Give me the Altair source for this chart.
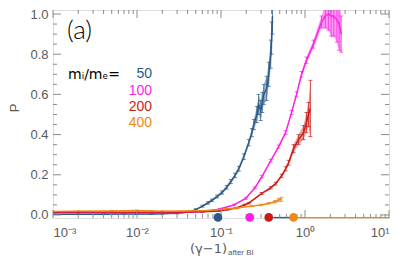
import altair as alt
import pandas as pd

# ---------------- data ----------------
series_names = ["50", "100", "200", "400"]
series_colors = ["#2b5a87", "#ff1ee6", "#cc1a14", "#ec8a14"]
dot_colors = ["#0f3a62", "#ff1ee6", "#c40d0d", "#ec8a14"]

blue_x = [0.001, 0.002, 0.004, 0.007, 0.01, 0.015, 0.02, 0.03, 0.042, 0.05, 0.06, 0.07,
          0.078, 0.09, 0.103, 0.117, 0.131, 0.147, 0.163, 0.187, 0.214, 0.233, 0.246,
          0.267, 0.28, 0.297, 0.31, 0.323, 0.35, 0.37, 0.391, 0.401, 0.41]
blue_p = [0.004, 0.004, 0.004, 0.005, 0.005, 0.005, 0.006, 0.009, 0.015, 0.027, 0.044, 0.06,
          0.073, 0.092, 0.112, 0.138, 0.166, 0.197, 0.23, 0.29, 0.36, 0.41, 0.45,
          0.50, 0.55, 0.52, 0.56, 0.60, 0.63, 0.70, 0.80, 0.88, 0.99]
blue_e = [0.002, 0.002, 0.002, 0.002, 0.002, 0.002, 0.002, 0.003, 0.003, 0.004, 0.005, 0.006,
          0.006, 0.007, 0.008, 0.009, 0.010, 0.011, 0.012, 0.014, 0.016, 0.02, 0.025,
          0.04, 0.05, 0.05, 0.05, 0.05, 0.06, 0.06, 0.07, 0.08, 0.09]

mag_x = [0.001, 0.002, 0.004, 0.007, 0.01, 0.02, 0.03, 0.045, 0.06, 0.08, 0.097, 0.143,
         0.198, 0.253, 0.306, 0.391, 0.486, 0.588, 0.692, 0.793, 0.91, 1.04, 1.26, 1.57,
         1.75, 1.9, 2.05, 2.2, 2.4, 2.55, 2.7]
mag_p = [0.012, 0.012, 0.011, 0.011, 0.011, 0.011, 0.012, 0.014, 0.017, 0.023, 0.03, 0.05,
         0.083, 0.135, 0.19, 0.27, 0.34, 0.41, 0.51, 0.60, 0.70, 0.77, 0.85, 0.96,
         0.99, 1.00, 0.99, 0.99, 0.97, 0.95, 0.90]
mag_e = [0.002, 0.002, 0.002, 0.002, 0.002, 0.002, 0.002, 0.002, 0.003, 0.003, 0.003, 0.004,
         0.005, 0.005, 0.006, 0.007, 0.008, 0.009, 0.01, 0.012, 0.014, 0.016, 0.02, 0.03,
         0.06, 0.08, 0.10, 0.10, 0.11, 0.13, 0.09]

red_x = [0.001, 0.002, 0.005, 0.01, 0.02, 0.04, 0.06, 0.0945, 0.12, 0.15, 0.19, 0.214,
         0.305, 0.39, 0.448, 0.527, 0.59, 0.638, 0.731, 0.838, 0.96, 1.04, 1.1, 1.16]
red_p = [0.015, 0.015, 0.014, 0.014, 0.014, 0.015, 0.016, 0.02, 0.027, 0.034, 0.05, 0.059,
         0.107, 0.135, 0.156, 0.195, 0.23, 0.26, 0.33, 0.375, 0.41, 0.46, 0.50, 0.53]
red_e = [0.002, 0.002, 0.002, 0.002, 0.002, 0.002, 0.002, 0.003, 0.003, 0.003, 0.004, 0.004,
         0.005, 0.006, 0.007, 0.008, 0.01, 0.012, 0.02, 0.025, 0.035, 0.05, 0.06, 0.14]

org_x = [0.001, 0.002, 0.005, 0.01, 0.015, 0.02, 0.04, 0.07, 0.115, 0.16, 0.233, 0.3,
         0.37, 0.44, 0.486, 0.527]
org_p = [0.018, 0.019, 0.02, 0.022, 0.02, 0.019, 0.02, 0.022, 0.03, 0.036, 0.044, 0.05,
         0.058, 0.066, 0.075, 0.078]
org_e = [0.002, 0.002, 0.002, 0.002, 0.002, 0.002, 0.002, 0.002, 0.003, 0.003, 0.003, 0.004,
         0.004, 0.006, 0.008, 0.010]

# markers on the axis (gamma-1 values per mass ratio)
dot_x = [0.092, 0.22, 0.37, 0.73]
dot_p = [-0.012, -0.012, -0.012, -0.012]

# short horizontal segments along the bottom
seg_series = ["50", "50", "400", "400"]
seg_x = [0.42, 0.66, 0.75, 10.0]
seg_p = [-0.013, -0.013, -0.013, -0.013]

x_major = [0.001, 0.01, 0.1, 1.0, 10.0]
x_minor = [k * 10.0 ** e for e in range(-3, 1) for k in range(2, 10)]
y_major = [0.0, 0.2, 0.4, 0.6, 0.8, 1.0]
y_minor = [0.05, 0.1, 0.15, 0.25, 0.3, 0.35, 0.45, 0.5, 0.55, 0.65, 0.7, 0.75, 0.85, 0.9, 0.95]

legend_numbers = ["50", "100", "200", "400"]

# ---------------- build tables ----------------
rows = []
for name, xs, ps, es in [("50", blue_x, blue_p, blue_e), ("100", mag_x, mag_p, mag_e),
                         ("200", red_x, red_p, red_e), ("400", org_x, org_p, org_e)]:
    for xv, pv, ev in zip(xs, ps, es):
        rows.append({"x": xv, "p": pv, "lo": pv - ev, "hi": pv + ev, "series": name})
df = pd.DataFrame(rows)
dots = pd.DataFrame({"x": dot_x, "p": dot_p, "series": series_names})
segs = pd.DataFrame({"x": seg_x, "p": seg_p, "series": seg_series,
                     "grp": ["a", "a", "b", "b"]})

W, H = 336, 208
GREY = "#8c8c8c"
LABEL = "#5a5a5a"

xscale = alt.Scale(type="log", domain=[0.001, 10])
yscale = alt.Scale(domain=[-0.015, 1.02])
cscale = alt.Scale(domain=series_names, range=series_colors)

label_expr = ("datum.value < 0.005 ? '10⁻³' : datum.value < 0.05 ? '10⁻²' : "
              "datum.value < 0.5 ? '10⁻¹' : datum.value < 5 ? '10⁰' : '10¹'")

xenc = alt.X("x:Q", scale=xscale,
             axis=alt.Axis(values=x_major, labelExpr=label_expr, ticks=False, domain=False,
                           grid=False, title=None, labelFontSize=13, labelColor=LABEL,
                           labelPadding=8, labelFont="Liberation Sans"))
yenc = alt.Y("p:Q", scale=yscale,
             axis=alt.Axis(values=y_major, format=".1f", ticks=False, domain=False,
                           grid=False, title=None, labelFontSize=13, labelColor=LABEL,
                           labelPadding=5, labelFont="Liberation Sans"))

base = alt.Chart(df)
band = base.mark_area(opacity=0.45, clip=True).encode(
    x=alt.X("x:Q", scale=xscale), y=alt.Y("lo:Q", scale=yscale), y2="hi:Q",
    color=alt.Color("series:N", scale=cscale, legend=None), detail="series:N")
bars = base.mark_rule(opacity=0.7, strokeWidth=1, clip=True).encode(
    x=alt.X("x:Q", scale=xscale), y=alt.Y("lo:Q", scale=yscale), y2="hi:Q",
    color=alt.Color("series:N", scale=cscale, legend=None))
caps_hi = base.mark_tick(orient="horizontal", size=4, thickness=1, opacity=0.7, clip=True).encode(
    x=alt.X("x:Q", scale=xscale), y=alt.Y("hi:Q", scale=yscale),
    color=alt.Color("series:N", scale=cscale, legend=None))
caps_lo = base.mark_tick(orient="horizontal", size=4, thickness=1, opacity=0.7, clip=True).encode(
    x=alt.X("x:Q", scale=xscale), y=alt.Y("lo:Q", scale=yscale),
    color=alt.Color("series:N", scale=cscale, legend=None))
lines = base.mark_line(strokeWidth=1.4).encode(
    x=xenc, y=yenc, color=alt.Color("series:N", scale=cscale, legend=None), detail="series:N")

seg_lines = alt.Chart(segs).mark_line(strokeWidth=1.4).encode(
    x=alt.X("x:Q", scale=xscale), y=alt.Y("p:Q", scale=yscale),
    color=alt.Color("series:N", scale=cscale, legend=None), detail="grp:N")

dot_marks = alt.Chart(dots).mark_circle(size=75, opacity=1).encode(
    x=alt.X("x:Q", scale=xscale), y=alt.Y("p:Q", scale=yscale),
    color=alt.Color("series:N", scale=alt.Scale(domain=series_names, range=dot_colors), legend=None))

# inward frame ticks
def xticks(vals, length):
    d = pd.DataFrame({"x": vals})
    bot = alt.Chart(d).mark_rule(color=GREY, strokeWidth=1).encode(
        x=alt.X("x:Q", scale=xscale), y=alt.value(H), y2=alt.value(H - length))
    top = alt.Chart(d).mark_rule(color=GREY, strokeWidth=1).encode(
        x=alt.X("x:Q", scale=xscale), y=alt.value(0), y2=alt.value(length))
    return bot + top

def yticks(vals, length):
    d = pd.DataFrame({"p": vals})
    left = alt.Chart(d).mark_rule(color=GREY, strokeWidth=1).encode(
        y=alt.Y("p:Q", scale=yscale), x=alt.value(0), x2=alt.value(length))
    right = alt.Chart(d).mark_rule(color=GREY, strokeWidth=1).encode(
        y=alt.Y("p:Q", scale=yscale), x=alt.value(W), x2=alt.value(W - length))
    return left + right

tick_layers = xticks(x_major, 8) + xticks(x_minor, 4) + yticks(y_major, 8) + yticks(y_minor, 4)

# text annotations
def txt(s, x, y, size, color="black", align="left", angle=0, font="Liberation Sans", weight=400):
    return alt.Chart(pd.DataFrame({"t": [s]})).mark_text(
        align=align, baseline="middle", fontSize=size, color=color, angle=angle, font=font,
        fontWeight=weight
    ).encode(text="t:N", x=alt.value(x), y=alt.value(y))

texts = (txt("(a)", 14, 21, 26, font="Lato", weight=300)
         + txt("mᵢ/mₑ=", 15, 65, 14, font="DejaVu Sans")
         + txt(legend_numbers[0], 99, 64, 14, series_colors[0], "right")
         + txt(legend_numbers[1], 99, 81, 14, series_colors[1], "right")
         + txt(legend_numbers[2], 99, 97, 14, series_colors[2], "right")
         + txt(legend_numbers[3], 99, 113, 14, series_colors[3], "right")
         + txt("P", -38, 98, 13, LABEL, "center", 270)
         + txt("(γ−1)", 174, 239, 13, LABEL, "right", font="DejaVu Sans")
         + txt("after BI", 175, 243, 8, LABEL, "left"))

chart = alt.layer(
    band, bars, caps_lo, caps_hi, lines, seg_lines, tick_layers, dot_marks, texts
).properties(
    width=W, height=H,
    autosize=alt.AutoSizeParams(type="none"),
    padding={"left": 45, "top": 2, "right": 10, "bottom": 39},
).configure_view(stroke=GREY, strokeWidth=1.5).configure(background="white")

chart.save("out.html", embed_options={"renderer": "svg", "actions": False})
